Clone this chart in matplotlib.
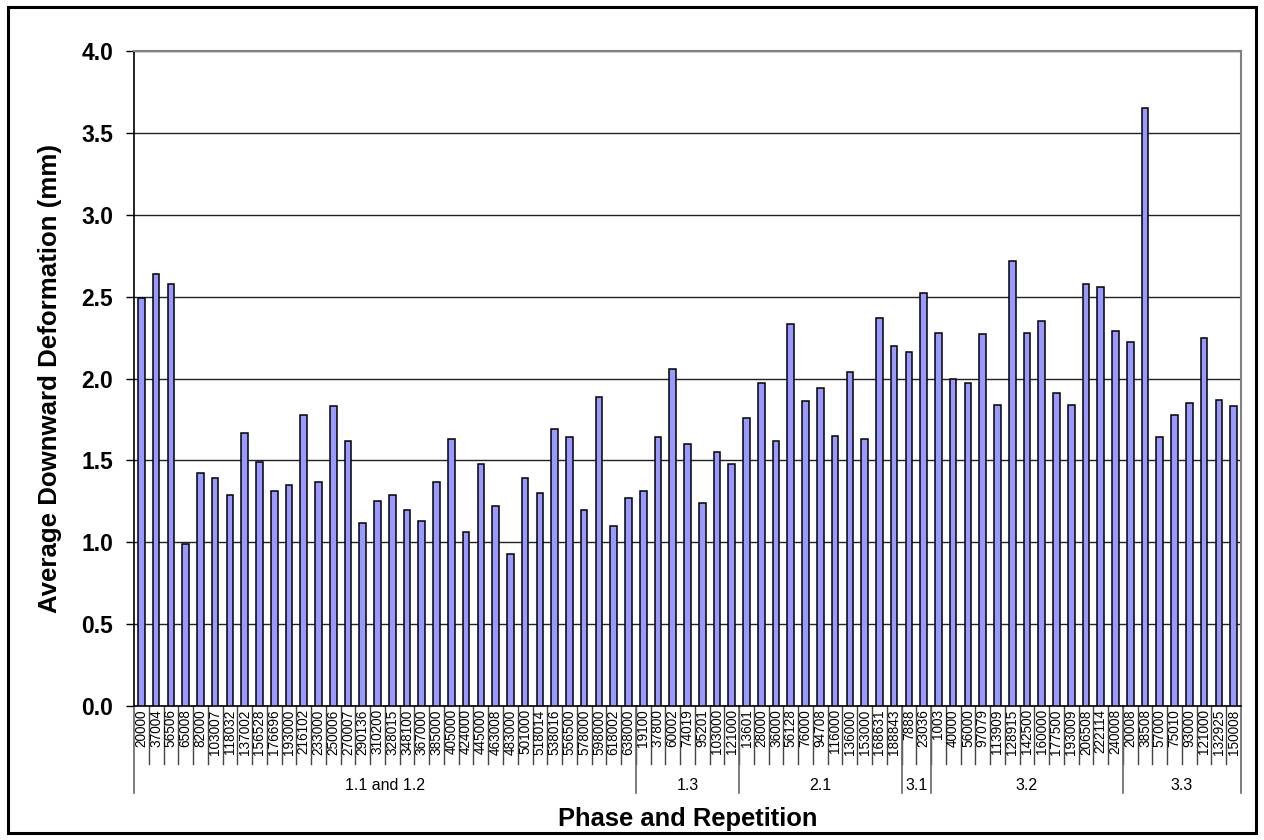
import matplotlib
matplotlib.use("Agg")
import matplotlib.pyplot as plt
from matplotlib.patches import Rectangle
import numpy as np

plt.rcParams['font.family'] = ['Liberation Sans', 'DejaVu Sans']

# Phase groups and the repetition counts within each
groups = ["1.1 and 1.2", "1.3", "2.1", "3.1", "3.2", "3.3"]

reps_11_12 = ["20000", "37004", "56506", "65008", "82000", "103007", "118032",
              "137002", "156528", "176696", "193000", "216102", "233000",
              "250006", "270007", "290136", "310200", "328015", "348100",
              "367000", "385000", "405000", "424000", "445000", "463008",
              "483000", "501000", "518014", "538016", "556500", "578000",
              "598000", "618002", "638000"]
defo_11_12 = [2.49, 2.64, 2.58, 0.99, 1.42, 1.39, 1.29, 1.67, 1.49, 1.31,
              1.35, 1.78, 1.37, 1.83, 1.62, 1.12, 1.25, 1.29, 1.20, 1.13,
              1.37, 1.63, 1.06, 1.48, 1.22, 0.93, 1.39, 1.30, 1.69, 1.64,
              1.20, 1.89, 1.10, 1.27]

reps_13 = ["19100", "37800", "60002", "74019", "95201", "103000", "121000"]
defo_13 = [1.31, 1.64, 2.06, 1.60, 1.24, 1.55, 1.48]

reps_21 = ["13601", "28000", "36000", "56128", "76000", "94708", "116000",
           "136000", "153000", "168631", "188843"]
defo_21 = [1.76, 1.97, 1.62, 2.33, 1.86, 1.94, 1.65, 2.04, 1.63, 2.37, 2.20]

reps_31 = ["7888", "23036"]
defo_31 = [2.16, 2.52]

reps_32 = ["1003", "40000", "56000", "97079", "113909", "128915", "142500",
           "160000", "177500", "193009", "206508", "222114", "240008"]
defo_32 = [2.28, 2.00, 1.97, 2.27, 1.84, 2.72, 2.28, 2.35, 1.91, 1.84,
           2.58, 2.56, 2.29]

reps_33 = ["20008", "38508", "57000", "75010", "93000", "121000", "132925",
           "150008"]
defo_33 = [2.22, 3.65, 1.64, 1.78, 1.85, 2.25, 1.87, 1.83]

rep_lists = [reps_11_12, reps_13, reps_21, reps_31, reps_32, reps_33]
defo_lists = [defo_11_12, defo_13, defo_21, defo_31, defo_32, defo_33]

labels = [r for lst in rep_lists for r in lst]
values = [v for lst in defo_lists for v in lst]
x = np.arange(len(values))

fig = plt.figure(figsize=(12.64, 8.40), dpi=100)
ax = fig.add_axes([0.106, 0.1595, 0.8758, 0.7798])

# outer frame of the chart
fig.patches.append(Rectangle((0.0065, 0.0083), 0.9935 - 0.0065, 0.9917 - 0.0083,
                             transform=fig.transFigure, fill=False,
                             edgecolor='black', linewidth=2.2, zorder=10))

ax.set_axisbelow(True)
ax.yaxis.grid(True, color='#222222', linewidth=1.0)
ax.bar(x, values, width=0.45, color='#9999FF', edgecolor='black',
       linewidth=1.1, zorder=3)

ax.set_xlim(-0.5, len(values) - 0.5)
ax.set_ylim(0, 4.0)
ax.set_yticks(np.arange(0, 4.01, 0.5))
ax.set_yticklabels([f"{t:.1f}" for t in np.arange(0, 4.01, 0.5)],
                   fontsize=16.5, fontweight='bold')
ax.tick_params(axis='y', direction='out', length=6, width=1, pad=9,
               color='black')
ax.set_xticks([])

for side in ('top', 'right'):
    ax.spines[side].set_color('#808080')
    ax.spines[side].set_linewidth(1.5)
ax.spines['left'].set_color('black')
ax.spines['bottom'].set_color('black')
ax.spines['left'].set_linewidth(1.2)
ax.spines['bottom'].set_linewidth(1.2)

trans = ax.get_xaxis_transform()

# repetition labels under each bar
for xi, lab in zip(x, labels):
    ax.text(xi, -0.005, lab, rotation=90, ha='center', va='top',
            fontsize=9.8, transform=trans, clip_on=False)

# short separators between categories
for b in np.arange(0.5, len(values) - 1, 1.0):
    ax.plot([b, b], [0, -0.088], transform=trans, color='#444444',
            linewidth=1.0, clip_on=False)

# longer separators between phase groups and group names
sizes = [len(lst) for lst in rep_lists]
edges = np.concatenate([[0], np.cumsum(sizes)]) - 0.5
for e in edges:
    ax.plot([e, e], [0, -0.133], transform=trans, color='#666666',
            linewidth=1.2, clip_on=False)
for g, lo, hi in zip(groups, edges[:-1], edges[1:]):
    ax.text((lo + hi) / 2, -0.121, g, ha='center', va='center',
            fontsize=11.5, transform=trans, clip_on=False)

ax.text(0.5, -0.173, "Phase and Repetition", ha='center', va='center',
        fontsize=18.4, fontweight='bold', transform=ax.transAxes)
ax.set_ylabel("Average Downward Deformation (mm)", fontsize=18.6,
              fontweight='bold', labelpad=14)

fig.savefig("out.png", dpi=100)
